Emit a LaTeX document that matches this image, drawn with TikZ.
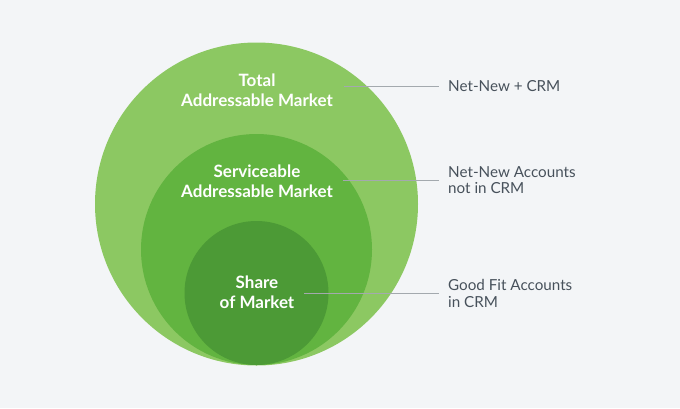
\documentclass[tikz,border=0pt]{standalone}
\usepackage{fontspec}
\setmainfont{Lato}
\definecolor{bg}{HTML}{F3F5F7}
\definecolor{outerg}{HTML}{8CC862}
\definecolor{midg}{HTML}{62B440}
\definecolor{innerg}{HTML}{4C9A36}
\definecolor{leadc}{HTML}{A3A9AE}
\definecolor{labc}{HTML}{47515B}
\begin{document}
\begin{tikzpicture}[x=1pt,y=-1pt,
  ring/.style={circle,inner sep=0pt,minimum size=#1},
  intext/.style={text=white,font=\fontsize{17}{20}\selectfont\bfseries,align=center},
  sidelab/.style={anchor=west,text=labc,font=\fontsize{15.2}{16.5}\selectfont,align=left,inner xsep=9pt,inner ysep=0pt},
  leader/.style={draw=leadc,line width=0.9pt}]
\fill[bg] (0,0) rectangle (680,408);
\useasboundingbox (0,0) rectangle (680,408);
\node[ring=323pt,fill=outerg] (outer) at (256.5,204) {};
\node[ring=231pt,fill=midg] (mid) at (256.5,249.5) {};
\node[ring=144pt,fill=innerg] (inner) at (256.5,293) {};
\node[intext] (t1) at (257,90) {Total\\Addressable Market};
\node[intext] (t2) at (257,181) {Serviceable\\Addressable Market};
\node[intext] (t3) at (257,292) {Share\\of Market};
\node[sidelab] (l1) at (439,86.5) {Net-New + CRM};
\node[sidelab] (l2) at (439,180) {Net-New Accounts\\not in CRM};
\node[sidelab] (l3) at (439,293.5) {Good Fit Accounts\\in CRM};
\coordinate (p1) at (344,86.5);
\coordinate (p2) at (343,180);
\coordinate (p3) at (304,293.5);
\draw[leader] (p1) -- (l1.west);
\draw[leader] (p2) -- (l2.west);
\draw[leader] (p3) -- (l3.west);
\end{tikzpicture}
\end{document}
